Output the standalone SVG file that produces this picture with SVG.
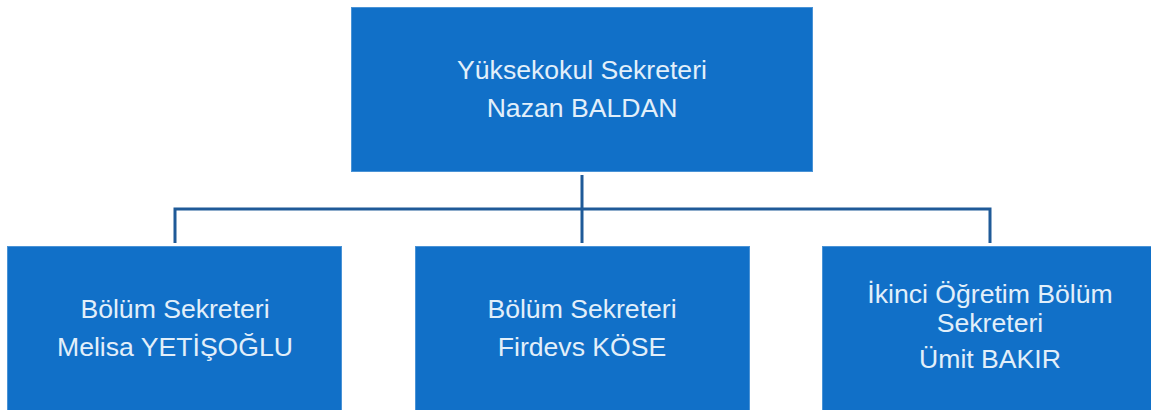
<svg xmlns="http://www.w3.org/2000/svg" width="1151" height="410" viewBox="0 0 1151 410">
<style>
.box{fill:#1170c8;stroke:#4a93d6;stroke-width:1}
.t{font-family:"Liberation Sans",Arial,sans-serif;font-size:26.6px;fill:#e2effa;text-anchor:middle}
.c{fill:none;stroke:#1f5a98;stroke-width:3}
</style>
<g id="connectors">
<path class="c" d="M582,175 V243"/>
<path class="c" d="M175,243 V209 H990 V243"/>
</g>
<g id="top">
<rect class="box" x="351.5" y="7.5" width="461" height="164"/>
<text class="t" x="582" y="79">Yüksekokul Sekreteri</text>
<text class="t" x="582" y="117">Nazan BALDAN</text>
</g>
<g id="left">
<rect class="box" x="7.5" y="246.5" width="334" height="170"/>
<text class="t" x="175" y="318">Bölüm Sekreteri</text>
<text class="t" x="175" y="356">Melisa YETİŞOĞLU</text>
</g>
<g id="middle">
<rect class="box" x="415.5" y="246.5" width="334" height="170"/>
<text class="t" x="582" y="318">Bölüm Sekreteri</text>
<text class="t" x="582" y="356">Firdevs KÖSE</text>
</g>
<g id="right">
<rect class="box" x="822.5" y="246.5" width="334" height="170"/>
<text class="t" x="990" y="303">İkinci Öğretim Bölüm</text>
<text class="t" x="990" y="332">Sekreteri</text>
<text class="t" x="990" y="368">Ümit BAKIR</text>
</g>
</svg>
